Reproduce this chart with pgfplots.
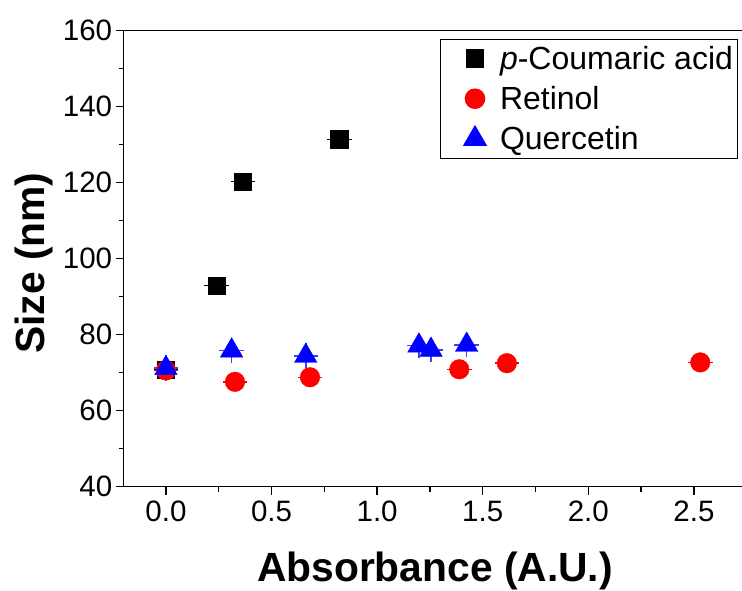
\documentclass[border=0pt]{standalone}
\usepackage{fontspec}
\setmainfont{Liberation Sans}
\usepackage{pgfplots}
\pgfplotsset{compat=1.18}
\definecolor{pred}{RGB}{255,0,0}
\definecolor{pblue}{RGB}{0,0,255}
\begin{document}
\begin{tikzpicture}[x=1pt,y=1pt]
\path[use as bounding box] (0,0) rectangle (742,590);
\begin{axis}[
  at={(123.7pt,103.3pt)}, anchor=south west,
  width=618.3pt, height=456pt, scale only axis,
  xmin=-0.2, xmax=2.7276, ymin=40, ymax=160,
  axis x line*=bottom, axis y line*=left,
  axis line style={line width=1.3pt},
  clip=false,
  xtick={0,0.5,1,1.5,2,2.5},
  minor xtick={0.25,0.75,1.25,1.75,2.25},
  ytick={40,60,80,100,120,140,160},
  minor ytick={50,70,90,110,130,150},
  tick align=outside,
  major tick length=8pt, minor tick length=5pt,
  every tick/.style={line width=1.3pt, black},
  /pgf/number format/assume math mode=true,
  ticklabel style={font=\fontsize{29.5}{33}\selectfont},
  xticklabel style={yshift=-3pt, /pgf/number format/.cd, fixed, fixed zerofill, precision=1},
  yticklabel style={/pgf/number format/.cd, fixed, precision=0},
  xlabel={\textbf{Absorbance (A.U.)}},
  ylabel={\textbf{Size (nm)}},
  label style={font=\fontsize{40.8}{46}\selectfont},
  xlabel style={at={(axis description cs:0.5035,0)}, anchor=base, yshift=-95pt},
  ylabel style={at={(axis description cs:-0.1273,0.49)}, anchor=base},
  legend style={at={(rel axis cs:0.9943,0.9825)}, anchor=north east,
    draw=black, line width=1pt, font=\fontsize{32}{36}\selectfont,
    inner xsep=3pt, inner ysep=5pt, row sep=11.5pt},
  legend cell align=left,
  legend image code/.code={\path[draw=none, fill=none] (0pt,-5pt) rectangle (55pt,5pt);
    \draw[#1, mark repeat=2, mark phase=2] plot coordinates {(0pt,0pt) (32pt,0pt) (55pt,0pt)};},
]
\addplot[only marks, mark=square*, black, mark size=8.7pt,
  error bars/.cd, x dir=both, x explicit, error mark=none,
  error bar style={line width=1.5pt, black}]
  coordinates {
    (0.000,70.8) +- (0.058,0)
    (0.240,92.9) +- (0.058,0)
    (0.364,120.3) +- (0.058,0)
    (0.821,131.4) +- (0.058,0)
  };
\addlegendentry{\textit{p}-Coumaric acid}
\addplot[only marks, mark=*, pred, mark size=9.8pt,
  error bars/.cd, x dir=both, x explicit, error mark=none,
  error bar style={line width=1.5pt, pred}]
  coordinates {
    (0.000,70.6) +- (0.058,0)
    (0.327,67.6) +- (0.058,0)
    (0.682,68.8) +- (0.058,0)
    (1.389,70.9) +- (0.058,0)
    (1.614,72.5) +- (0.058,0)
    (2.530,72.7) +- (0.058,0)
  };
\addlegendentry{Retinol}
\addplot[only marks, mark=triangle*, pblue, mark size=13pt,
  error bars/.cd, x dir=both, x explicit, y dir=both, y explicit, error mark=none,
  error bar style={line width=1.5pt, pblue!75!white}]
  coordinates {
    (0.000,71.2) +- (0.058,3.4)
    (0.311,75.8) +- (0.058,3.3)
    (0.662,74.4) +- (0.058,3.5)
    (1.198,77.1) +- (0.058,3.1)
    (1.255,76.0) +- (0.058,3.1)
    (1.424,77.3) +- (0.058,3.1)
  };
\addlegendentry{Quercetin}
\draw[line width=1.3pt] (rel axis cs:0,1) -- (rel axis cs:1,1);
\end{axis}
\end{tikzpicture}
\end{document}
